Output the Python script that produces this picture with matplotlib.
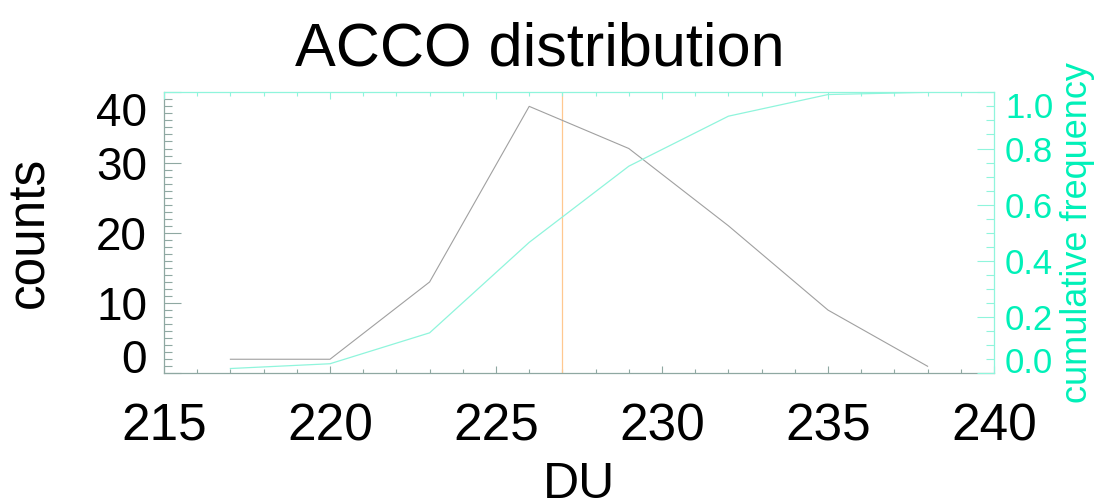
import numpy as np
import matplotlib
matplotlib.use('Agg')
import matplotlib.pyplot as plt
from matplotlib.transforms import blended_transform_factory, offset_copy

plt.rcParams['font.family'] = ['Liberation Sans', 'DejaVu Sans']

# data
du = [217, 220, 223, 226, 229, 232, 235, 238]
counts = [2, 2, 13, 38, 32, 21, 9, 1]
cum_freq = [0.017, 0.034, 0.144, 0.466, 0.737, 0.915, 0.992, 1.0]
mean_du = 227.0

x_ticks = [215, 220, 225, 230, 235, 240]
count_ticks = [0, 10, 20, 30, 40]
freq_ticks = [0.0, 0.2, 0.4, 0.6, 0.8, 1.0]

W, H = 1094, 500
cyan_txt = '#00f0b8'
cyan_ln = '#8ff5dc'
gray_ln = '#a0a0a0'
frame = '#8fa8a2'

fig = plt.figure(figsize=(W / 100, H / 100), dpi=100)
ax = fig.add_axes([164 / W, 1 - 373.3 / H, 830 / W, 281 / H])
ax2 = ax.twinx()

ax.plot(du, counts, color=gray_ln, lw=0.8, zorder=3)
ax.axvline(mean_du, color='#ffc890', lw=0.9, zorder=2)
ax2.plot(du, cum_freq, color=cyan_ln, lw=0.9)

ax.set_xlim(215, 240)
ax.set_ylim(0, 40)
ax2.set_ylim(0, 1)

# x axis
ax.set_xticks(x_ticks)
ax.set_xticks(np.arange(215, 241, 1), minor=True)
ax.tick_params(axis='x', which='both', direction='in', colors=frame, labelcolor='black',
               labelsize=37, pad=21, width=0.8)
ax.tick_params(axis='x', which='major', length=5)
ax.tick_params(axis='x', which='minor', length=3)

# left y axis
ax.set_yticks(count_ticks)
ax.set_yticks(np.arange(0, 41, 1), minor=True)
ax.tick_params(axis='y', which='both', direction='in', colors=frame, labelleft=False, width=0.8)
ax.tick_params(axis='y', which='major', length=12)
ax.tick_params(axis='y', which='minor', length=6)

# right y axis + top ticks in cyan
ax2.set_yticks(freq_ticks)
ax2.set_yticks(np.arange(0, 1.0001, 0.05), minor=True)
ax2.tick_params(axis='y', which='both', direction='in', colors=cyan_ln, labelright=False, width=0.8)
ax2.tick_params(axis='y', which='major', length=12)
ax2.tick_params(axis='y', which='minor', length=6)
ax2.xaxis.set_visible(True)
ax2.tick_params(axis='x', which='both', direction='in', bottom=False, labelbottom=False,
                top=True, labeltop=False, colors=cyan_ln, width=0.8)
ax2.tick_params(axis='x', which='major', length=5)
ax2.tick_params(axis='x', which='minor', length=3)

for s in ['top', 'right']:
    ax.spines[s].set_visible(False)
for s in ['left', 'bottom']:
    ax.spines[s].set_color(frame)
    ax2.spines[s].set_visible(False)
for s in ['top', 'right']:
    ax2.spines[s].set_color(cyan_ln)
for a in (ax, ax2):
    for s in a.spines.values():
        s.set_linewidth(0.9)

# y tick labels, ends pulled inside like the original
tl = offset_copy(blended_transform_factory(ax.transAxes, ax.transData), fig=fig, x=-17, y=0, units='dots')
for i, v in enumerate(count_ticks):
    va = 'baseline' if i == 0 else ('top' if i == len(count_ticks) - 1 else 'center_baseline')
    ax.text(0, v, str(v), transform=tl, ha='right', va=va, fontsize=33, color='black')

tr = offset_copy(blended_transform_factory(ax2.transAxes, ax2.transData), fig=fig, x=11, y=0, units='dots')
for i, v in enumerate(freq_ticks):
    va = 'baseline' if i == 0 else ('top' if i == len(freq_ticks) - 1 else 'center_baseline')
    ax2.text(1, v, f'{v:.1f}', transform=tr, ha='left', va=va, fontsize=25, color=cyan_txt)

# titles and axis labels
fig.text(539.5 / W, 1 - 65 / H, 'ACCO distribution', ha='center', va='baseline', fontsize=44)
fig.text(579 / W, 1 - 462 / H, 'DU', ha='center', va='top', fontsize=36)
fig.text(43 / W, 1 - 232.7 / H, 'counts', rotation=90, rotation_mode='anchor',
         ha='center', va='baseline', fontsize=37)
fig.text(1087 / W, 1 - 232.7 / H, 'cumulative frequency', rotation=90, rotation_mode='anchor',
         ha='center', va='baseline', fontsize=26, color=cyan_txt)

fig.savefig('out.png', dpi=100)
